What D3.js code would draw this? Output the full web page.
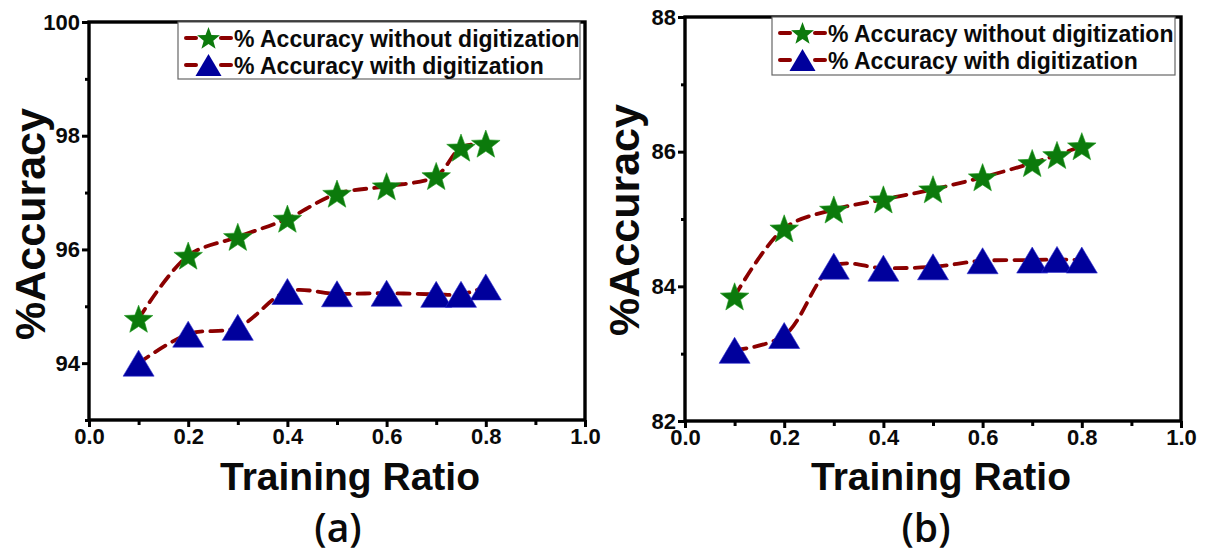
<!DOCTYPE html>
<html>
<head>
<meta charset="utf-8">
<script src="https://cdn.jsdelivr.net/npm/d3@7"></script>
<style>
  body { margin: 0; background: #fff; }
  svg { display: block; }
  text { font-family: "Liberation Sans", Arial, sans-serif; }
</style>
</head>
<body>
<svg id="chart" width="1205" height="552"></svg>
<script>
// Training ratios shared by both experiments
const ratios = [0.1, 0.2, 0.3, 0.4, 0.5, 0.6, 0.7, 0.75, 0.8];

// Panel (a) accuracies (%)
const accWithoutDigitA = [94.78, 95.89, 96.22, 96.54, 96.98, 97.11, 97.29, 97.79, 97.86];
const accWithDigitA    = [94.00, 94.51, 94.63, 95.26, 95.22, 95.23, 95.21, 95.21, 95.34];

// Panel (b) accuracies (%)
const accWithoutDigitB = [83.85, 84.86, 85.14, 85.29, 85.44, 85.62, 85.83, 85.95, 86.08];
const accWithDigitB    = [83.05, 83.27, 84.30, 84.27, 84.29, 84.38, 84.39, 84.40, 84.39];

// Axis ticks
const xTickValues = [0.0, 0.2, 0.4, 0.6, 0.8, 1.0];
const xMinorTicks = [0.1, 0.3, 0.5, 0.7, 0.9];
const yTicksA = [94, 96, 98, 100];
const yMinorA = [93, 95, 97, 99];
const yTicksB = [82, 84, 86, 88];
const yMinorB = [83, 85, 87];

// Text
const seriesNames = ["% Accuracy without digitization", "% Accuracy with digitization"];
const xTitle = "Training Ratio";
const yTitle = "%Accuracy";
const panelLabels = ["(a)", "(b)"];

const LINE_COLOR = "#8b0000";
const STAR_COLOR = "#0c7a0c";
const TRI_COLOR  = "#00009c";
const TEXT_COLOR = "#0a0a0a";

const svg = d3.select("#chart");

function starPath(R) {
  const r = R * 0.42;
  const pts = [];
  for (let i = 0; i < 10; i++) {
    const a = -Math.PI / 2 + i * Math.PI / 5;
    const rad = i % 2 ? r : R;
    pts.push([rad * Math.cos(a), rad * Math.sin(a) + R * 0.09]);
  }
  return "M" + pts.map(p => p.join(",")).join("L") + "Z";
}
function triPath(w, h) {
  return `M0,${-h / 2}L${w / 2},${h / 2}L${-w / 2},${h / 2}Z`;
}

function styleTickText(sel) {
  sel.style("font-size", "22px").style("font-weight", "bold")
    .style("font-family", "'Liberation Sans', Arial, sans-serif")
    .attr("fill", TEXT_COLOR);
}

function drawPanel(cfg) {
  const x = d3.scaleLinear().domain([0, 1]).range([cfg.left, cfg.right]);
  const y = d3.scaleLinear().domain(cfg.yDomain).range([cfg.bottom, cfg.top]);
  const g = svg.append("g");

  // y axis major + minor ticks
  const yAxis = g.append("g").attr("transform", `translate(${cfg.left},0)`)
    .call(d3.axisLeft(y).tickValues(cfg.yTicks).tickSize(7).tickPadding(2).tickFormat(d3.format("d")));
  yAxis.select(".domain").remove();
  yAxis.selectAll(".tick line").attr("stroke", "#000").attr("stroke-width", 3);
  styleTickText(yAxis.selectAll(".tick text"));
  const yMinor = g.append("g").attr("transform", `translate(${cfg.left},0)`)
    .call(d3.axisLeft(y).tickValues(cfg.yMinor).tickSize(4).tickFormat(""));
  yMinor.select(".domain").remove();
  yMinor.selectAll(".tick line").attr("stroke", "#000").attr("stroke-width", 3);

  // x axis major + minor ticks
  const xAxis = g.append("g").attr("transform", `translate(0,${cfg.bottom})`)
    .call(d3.axisBottom(x).tickValues(xTickValues).tickSize(7).tickPadding(1).tickFormat(d3.format(".1f")));
  xAxis.select(".domain").remove();
  xAxis.selectAll(".tick line").attr("stroke", "#000").attr("stroke-width", 3);
  styleTickText(xAxis.selectAll(".tick text"));
  const xMinor = g.append("g").attr("transform", `translate(0,${cfg.bottom})`)
    .call(d3.axisBottom(x).tickValues(xMinorTicks).tickSize(5).tickFormat(""));
  xMinor.select(".domain").remove();
  xMinor.selectAll(".tick line").attr("stroke", "#000").attr("stroke-width", 3);

  // frame
  g.append("rect")
    .attr("x", cfg.left).attr("y", cfg.top)
    .attr("width", cfg.right - cfg.left).attr("height", cfg.bottom - cfg.top)
    .attr("fill", "none").attr("stroke", "#000").attr("stroke-width", 3.4);

  // series
  const line = d3.line().x(d => x(d[0])).y(d => y(d[1])).curve(d3.curveCatmullRom.alpha(0.5));
  const series = [
    { vals: cfg.without, shape: "star" },
    { vals: cfg.with, shape: "tri" }
  ];
  series.forEach(s => {
    const pts = ratios.map((r, i) => [r, s.vals[i]]);
    g.append("path").datum(pts).attr("d", line)
      .attr("fill", "none").attr("stroke", LINE_COLOR).attr("stroke-width", 3.8)
      .attr("stroke-dasharray", "12,8").attr("stroke-linecap", "round");
  });
  series.forEach(s => {
    const pts = ratios.map((r, i) => [r, s.vals[i]]);
    g.selectAll(null).data(pts).enter().append("path")
      .attr("transform", d => `translate(${x(d[0])},${y(d[1])})`)
      .attr("d", s.shape === "star" ? starPath(15) : triPath(31, 26))
      .attr("fill", s.shape === "star" ? STAR_COLOR : TRI_COLOR)
      .attr("stroke", s.shape === "star" ? "#1f9a1f" : "#2a2ad0").attr("stroke-width", 0.6);
  });

  // legend
  const L = cfg.legend;
  const lg = g.append("g");
  lg.append("rect").attr("x", L.x).attr("y", L.y).attr("width", L.w).attr("height", L.h)
    .attr("fill", "#fff").attr("stroke", "#666").attr("stroke-width", 1.2);
  seriesNames.forEach((name, i) => {
    const cy = L.y + L.row0 + i * L.rowGap;
    const sx = L.x + 8;
    [[sx, sx + 10], [sx + 35, sx + 45]].forEach(([a, b]) => {
      lg.append("line").attr("x1", a).attr("x2", b).attr("y1", cy).attr("y2", cy)
        .attr("stroke", LINE_COLOR).attr("stroke-width", 4).attr("stroke-linecap", "round");
    });
    lg.append("path").attr("transform", `translate(${sx + 22.5},${cy})`)
      .attr("d", i === 0 ? starPath(12) : triPath(26, 22))
      .attr("fill", i === 0 ? STAR_COLOR : TRI_COLOR);
    lg.append("text").attr("x", sx + 48).attr("y", cy + 8.5)
      .style("font-size", "23px").attr("font-weight", "bold").attr("fill", TEXT_COLOR).text(name);
  });

  // axis titles
  g.append("text")
    .attr("transform", `translate(${cfg.yTitleX},${cfg.yTitleY}) rotate(-90)`)
    .attr("text-anchor", "middle").style("font-size", "43px").attr("font-weight", "bold")
    .attr("fill", TEXT_COLOR).text(yTitle);
  g.append("text").attr("x", cfg.xTitleX).attr("y", cfg.xTitleY)
    .attr("text-anchor", "middle").style("font-size", "39px").attr("font-weight", "bold")
    .attr("fill", TEXT_COLOR).text(xTitle);
  g.append("text").attr("x", cfg.labelX).attr("y", cfg.labelY)
    .attr("text-anchor", "middle").style("font-size", "39px").attr("font-weight", 600)
    .style("font-family", "'Open Sans', 'Noto Sans', sans-serif")
    .attr("fill", TEXT_COLOR).text(cfg.label);
}

drawPanel({
  left: 89, right: 585, top: 22, bottom: 420, yDomain: [93, 100],
  yTicks: yTicksA, yMinor: yMinorA,
  without: accWithoutDigitA, with: accWithDigitA,
  legend: { x: 178, y: 22, w: 402, h: 57, row0: 16, rowGap: 27 },
  yTitleX: 45, yTitleY: 224, xTitleX: 350, xTitleY: 490,
  labelX: 338, labelY: 542, label: panelLabels[0]
});

drawPanel({
  left: 685, right: 1181, top: 17, bottom: 421, yDomain: [82, 88],
  yTicks: yTicksB, yMinor: yMinorB,
  without: accWithoutDigitB, with: accWithDigitB,
  legend: { x: 772, y: 17, w: 403, h: 58, row0: 16, rowGap: 27 },
  yTitleX: 639, yTitleY: 220, xTitleX: 941, xTitleY: 490,
  labelX: 926, labelY: 542, label: panelLabels[1]
});
</script>
</body>
</html>
